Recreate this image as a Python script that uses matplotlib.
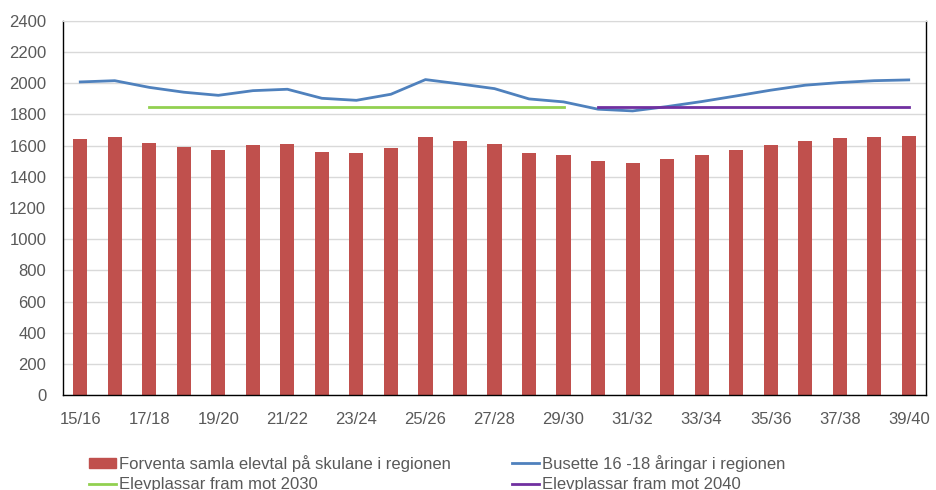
import numpy as np
import matplotlib
matplotlib.use('Agg')
import matplotlib.pyplot as plt
from matplotlib.patches import Patch
from matplotlib.lines import Line2D

plt.rcParams['font.family'] = ['Liberation Sans', 'DejaVu Sans']

# skoleår
years = ['15/16', '16/17', '17/18', '18/19', '19/20', '20/21', '21/22', '22/23',
         '23/24', '24/25', '25/26', '26/27', '27/28', '28/29', '29/30', '30/31',
         '31/32', '32/33', '33/34', '34/35', '35/36', '36/37', '37/38', '38/39',
         '39/40']

# forventa elevtal (søyler)
elevtal = [1645, 1653, 1615, 1589, 1572, 1602, 1609, 1560, 1553, 1583, 1653, 1630,
           1609, 1553, 1540, 1504, 1491, 1515, 1540, 1572, 1602, 1628, 1647, 1653,
           1660]

# busette 16-18 åringar
busette = [2009, 2017, 1974, 1943, 1923, 1953, 1962, 1904, 1891, 1930, 2024, 1996,
           1966, 1900, 1881, 1834, 1823, 1851, 1883, 1919, 1956, 1988, 2005, 2017,
           2022]

# elevplassar
plass_2030 = [np.nan, np.nan] + [1850] * 13 + [np.nan] * 10
plass_2040 = [np.nan] * 15 + [1850] * 10

red = '#C0504D'
blue = '#4F81BD'
green = '#92D050'
purple = '#7030A0'
txt = '#595959'

fig = plt.figure(figsize=(9.36, 4.90), dpi=100)
ax = fig.add_axes([63 / 936, 95 / 490, 863 / 936, 374 / 490])

x = np.arange(len(years))
ax.bar(x, elevtal, width=0.41, color=red, zorder=2)
ax.plot(x, busette, color=blue, lw=2.0, zorder=3)
ax.plot(x, plass_2030, color=green, lw=2.0, zorder=3)
ax.plot(x, plass_2040, color=purple, lw=2.0, zorder=3)

ax.set_xlim(-0.5, len(years) - 0.5)
ax.set_ylim(0, 2400)
ax.set_yticks(np.arange(0, 2401, 200))
ax.set_xticks(x[::2])
ax.set_xticklabels(years[::2])
ax.grid(axis='y', color='#D9D9D9', lw=1.0, zorder=0)
ax.set_axisbelow(True)
ax.tick_params(length=0, labelsize=12, colors=txt)
ax.tick_params(axis='x', pad=12)
ax.tick_params(axis='y', pad=12)
for s in ['left', 'bottom', 'right']:
    ax.spines[s].set_color('black')
    ax.spines[s].set_linewidth(1.0)
ax.spines['top'].set_color('#D9D9D9')

h1 = [Patch(color=red), Line2D([], [], color=green, lw=2)]
l1 = ['Forventa samla elevtal på skulane i regionen', 'Elevplassar fram mot 2030']
h2 = [Line2D([], [], color=blue, lw=2), Line2D([], [], color=purple, lw=2)]
l2 = ['Busette 16 -18 åringar i regionen', 'Elevplassar fram mot 2040']

kw = dict(loc='upper left', frameon=False, fontsize=12, handlelength=1.6,
          handleheight=0.6, handletextpad=0.2, labelspacing=0.32,
          borderaxespad=0, borderpad=0, labelcolor=txt)
fig.legend(h1, l1, bbox_to_anchor=(89 / 936, 1 - 455 / 490), **kw)
fig.legend(h2, l2, bbox_to_anchor=(512 / 936, 1 - 455 / 490), **kw)

fig.savefig('out.png', dpi=100)
